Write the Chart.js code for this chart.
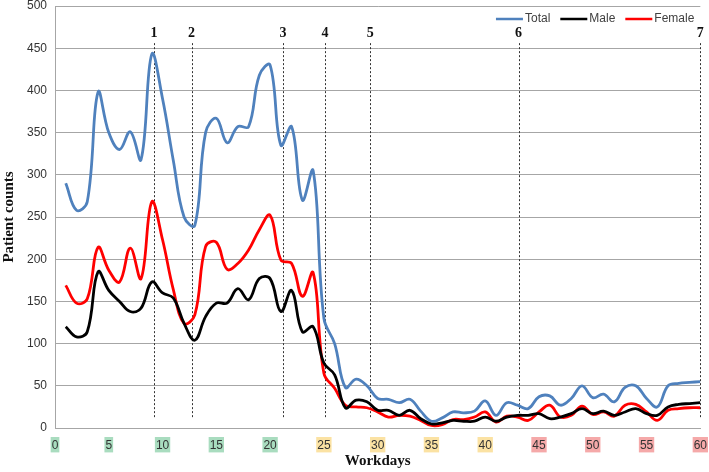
<!DOCTYPE html>
<html>
<head>
<meta charset="utf-8">
<script src="https://cdn.jsdelivr.net/npm/chart.js@4/dist/chart.umd.min.js"></script>
<style>
    html, body { margin: 0; padding: 0; background: #fff; }
    #wrap { width: 709px; height: 472px; }
</style>
</head>
<body>
<div id="wrap"><canvas id="chart" width="709" height="472"></canvas></div>
<script>
const days = [1, 2, 3, 4, 5, 6, 7, 8, 9, 10, 11, 12, 13, 14, 15, 16, 17, 18, 19, 20,
    21, 22, 23, 24, 25, 26, 27, 28, 29, 30, 31, 32, 33, 34, 35, 36, 37, 38, 39, 40,
    41, 42, 43, 44, 45, 46, 47, 48, 49, 50, 51, 52, 53, 54, 55, 56, 57, 58, 59, 60];

const totalCounts = [290, 258, 268, 398, 350, 330, 351, 318, 443, 390, 317, 250, 240, 350, 367, 338, 357, 357, 418, 430,
    335, 357, 270, 305, 130, 100, 48, 58, 50, 35, 34, 30, 34, 20, 8, 12, 19, 18, 20, 32,
    15, 30, 27, 23, 37, 38, 27, 35, 50, 36, 40, 31, 48, 50, 35, 25, 50, 53, 54, 55];

const maleCounts = [120, 108, 114, 185, 163, 150, 138, 142, 173, 160, 154, 124, 104, 132, 148, 148, 165, 152, 177, 177,
    138, 163, 114, 120, 77, 63, 24, 33, 31, 21, 21, 15, 21, 11, 5, 6, 9, 8, 8, 13,
    8, 13, 15, 15, 17, 11, 13, 17, 23, 17, 20, 15, 19, 23, 17, 15, 25, 28, 29, 30];

const femaleCounts = [169, 148, 153, 214, 187, 173, 213, 177, 268, 223, 164, 124, 134, 215, 220, 188, 195, 211, 235, 252,
    199, 195, 156, 184, 65, 47, 27, 25, 24, 19, 13, 15, 14, 9, 3, 4, 10, 10, 13, 19,
    7, 14, 13, 9, 19, 27, 13, 15, 26, 16, 19, 14, 27, 28, 19, 9, 21, 23, 24, 24];

const markerDays = [9.2, 12.7, 21.2, 25.1, 29.3, 43.1, 60];
const markerLabels = ["1", "2", "3", "4", "5", "6", "7"];

const xTicks = [0, 5, 10, 15, 20, 25, 30, 35, 40, 45, 50, 55, 60];
const yTicks = [0, 50, 100, 150, 200, 250, 300, 350, 400, 450, 500];

function toPoints(values) {
    return days.map((d, i) => ({ x: d, y: values[i] }));
}

function tickBackground(value) {
    if(value <= 20) return "#a9dcbf";
    if(value <= 40) return "#fbe2a3";
    return "#f5a9a9";
}

const markerPlugin = {
    id: "markers",
    beforeDatasetsDraw(chart) {
        const { ctx, scales: { x, y } } = chart;
        ctx.save();
        ctx.strokeStyle = "#333";
        ctx.lineWidth = 1;
        ctx.setLineDash([2, 2]);
        for(let i = 0; i < markerDays.length; i++) {
            const px = Math.round(x.getPixelForValue(markerDays[i])) + 0.5;
            ctx.beginPath();
            ctx.moveTo(px, y.getPixelForValue(456));
            ctx.lineTo(px, y.getPixelForValue(12));
            ctx.stroke();
        }
        ctx.setLineDash([]);
        ctx.font = "bold 14px 'Liberation Serif'";
        ctx.fillStyle = "#111";
        ctx.textAlign = "center";
        ctx.textBaseline = "middle";
        for(let i = 0; i < markerDays.length; i++) {
            ctx.fillText(markerLabels[i], x.getPixelForValue(markerDays[i]), y.getPixelForValue(468));
        }
        ctx.restore();
    },
};

// legend drawn in one row at the top right, inside the plot
const lineLegend = {
    id: "lineLegend",
    afterDraw(chart) {
        const { ctx, chartArea } = chart;
        const sets = chart.data.datasets;
        ctx.save();
        ctx.font = "12px 'Liberation Sans'";
        ctx.textBaseline = "middle";
        ctx.textAlign = "left";
        const sample = 27;
        const gap = 2;
        const spacing = 10;
        let width = 0;
        for(let i = 0; i < sets.length; i++) {
            width += sample + gap + ctx.measureText(sets[i].label).width + (i < sets.length - 1 ? spacing : 0);
        }
        let x = chartArea.right - 6 - width;
        const y = 19;
        for(let i = 0; i < sets.length; i++) {
            ctx.strokeStyle = sets[i].borderColor;
            ctx.lineWidth = 2.5;
            ctx.beginPath();
            ctx.moveTo(x, y);
            ctx.lineTo(x + sample, y);
            ctx.stroke();
            x += sample + gap;
            ctx.fillStyle = "#404040";
            ctx.fillText(sets[i].label, x, y);
            x += ctx.measureText(sets[i].label).width + spacing;
        }
        ctx.restore();
    },
};

const ctx = document.getElementById("chart").getContext("2d");
new Chart(ctx, {
    type: "line",
    data: {
        datasets: [
            { label: "Total", data: toPoints(totalCounts), borderColor: "#4f81bd", backgroundColor: "#4f81bd" },
            { label: "Male", data: toPoints(maleCounts), borderColor: "#000000", backgroundColor: "#000000" },
            { label: "Female", data: toPoints(femaleCounts), borderColor: "#ff0000", backgroundColor: "#ff0000" },
        ],
    },
    options: {
        responsive: false,
        animation: false,
        devicePixelRatio: 1,
        layout: { padding: { top: 6, right: 0, left: 0, bottom: 0 } },
        elements: {
            line: { borderWidth: 2.8, tension: 0.4, cubicInterpolationMode: "default" },
            point: { radius: 0 },
        },
        plugins: {
            tooltip: { enabled: false },
            legend: { display: false },
        },
        scales: {
            x: {
                type: "linear",
                min: 0,
                max: 60,
                afterBuildTicks(scale) {
                    scale.ticks = xTicks.map(v => ({ value: v }));
                },
                afterFit(scale) { scale.height = 44; },
                grid: { display: false },
                border: { display: true, color: "#a6a6a6", width: 1 },
                ticks: {
                    color: "#333",
                    font: { family: "'Liberation Sans'", size: 12 },
                    padding: 2,
                    showLabelBackdrop: true,
                    backdropColor: c => tickBackground(c.tick.value),
                    backdropPadding: { top: 1, bottom: 0, left: 1, right: 1 },
                },
                title: {
                    display: true,
                    text: "Workdays",
                    color: "#111",
                    font: { family: "'Liberation Serif'", size: 15, weight: "bold" },
                    padding: { top: 0, bottom: 2 },
                },
            },
            y: {
                min: 0,
                max: 500,
                afterBuildTicks(scale) {
                    scale.ticks = yTicks.map(v => ({ value: v }));
                },
                afterFit(scale) {
                    scale.width = 55;
                    scale.paddingTop = 0;
                },
                grid: { color: "#a6a6a6", lineWidth: 1, drawTicks: false },
                border: { display: true, color: "#a6a6a6", width: 1 },
                ticks: {
                    color: "#333",
                    font: { family: "'Liberation Sans'", size: 12 },
                    padding: 8,
                },
                title: {
                    display: true,
                    text: "Patient counts",
                    color: "#111",
                    font: { family: "'Liberation Serif'", size: 15, weight: "bold" },
                    padding: { top: 0, bottom: 0 },
                },
            },
        },
    },
    plugins: [markerPlugin, lineLegend],
});
</script>
</body>
</html>
